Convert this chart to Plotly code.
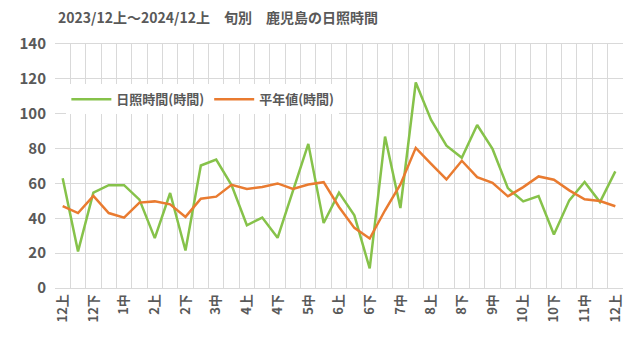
import plotly.graph_objects as go

labels = ["12上","12中","12下","1上","1中","1下","2上","2中","2下","3上","3中","3下",
          "4上","4中","4下","5上","5中","5下","6上","6中","6下","7上","7中","7下",
          "8上","8中","8下","9上","9中","9下","10上","10中","10下","11上","11中","11下","12上"]

sunshine = [63, 21, 54.7, 59, 59, 50.7, 28.6, 54.5, 21.5, 70.3, 73.7, 59,
            36, 40.4, 28.8, 56, 82.7, 37.3, 54.7, 41.7, 11.2, 86.9, 45.9, 117.9,
            96.4, 81.7, 74.7, 93.5, 79.8, 57.3, 49.7, 52.8, 30.7, 50.3, 60.8, 49.3, 66.9]

normal = [47, 43, 52.8, 43, 40.4, 49, 49.7, 48, 40.8, 51.2, 52.4, 59.2,
          56.8, 58, 60, 56.8, 59.4, 60.7, 46.5, 34.5, 28.4, 44.6, 59.4, 80.4,
          71.2, 62.3, 73, 63.6, 60.4, 52.6, 57.9, 64, 62.1, 56, 50.9, 49.9, 46.9]

x = list(range(len(labels)))
tick_idx = x[::2]
tick_txt = [labels[i] for i in tick_idx]

font_family = "Noto Sans CJK JP, Noto Sans, sans-serif"
txt_color = "#595959"

fig = go.Figure()
fig.add_trace(go.Scatter(x=x, y=sunshine, mode="lines", name="日照時間(時間)",
                         line=dict(color="#86C24A", width=2.5)))
fig.add_trace(go.Scatter(x=x, y=normal, mode="lines", name="平年値(時間)",
                         line=dict(color="#E97B30", width=2.5)))

fig.update_layout(
    width=640, height=353,
    margin=dict(l=55, r=17, t=44, b=65),
    paper_bgcolor="white", plot_bgcolor="white",
    font=dict(family=font_family, color=txt_color),
    title=dict(text="2023/12上～2024/12上　旬別　鹿児島の日照時間",
               x=58/640, xanchor="left", xref="container",
               y=1-18/353, yanchor="middle",
               font=dict(size=14, color=txt_color, family=font_family, weight="bold")),
    showlegend=True,
    legend=dict(orientation="h", x=0.02, y=0.835, xanchor="left", yanchor="top",
                bgcolor="white",
                font=dict(size=13, color=txt_color, family=font_family, weight="bold"),
                itemwidth=40, tracegroupgap=0),
)

fig.update_xaxes(
    range=[-0.5, len(labels) - 0.5],
    tickmode="array", tickvals=tick_idx, ticktext=tick_txt,
    tickangle=-90, tickfont=dict(size=13, color=txt_color, family=font_family, weight="bold"),
    showgrid=False, zeroline=False, ticks="",
    showline=True, linecolor="#d9d9d9", linewidth=1, mirror=True,
    minor=dict(showgrid=True, gridcolor="#d9d9d9", gridwidth=1, tick0=-0.5, dtick=1),
)
fig.update_yaxes(
    range=[0, 140], dtick=20,
    tickfont=dict(size=15, color=txt_color, family=font_family, weight="bold"),
    showgrid=True, gridcolor="#d9d9d9", gridwidth=1, zeroline=False,
    showline=False, ticks="", ticklabelstandoff=8,
)

fig.write_html("out.html")
